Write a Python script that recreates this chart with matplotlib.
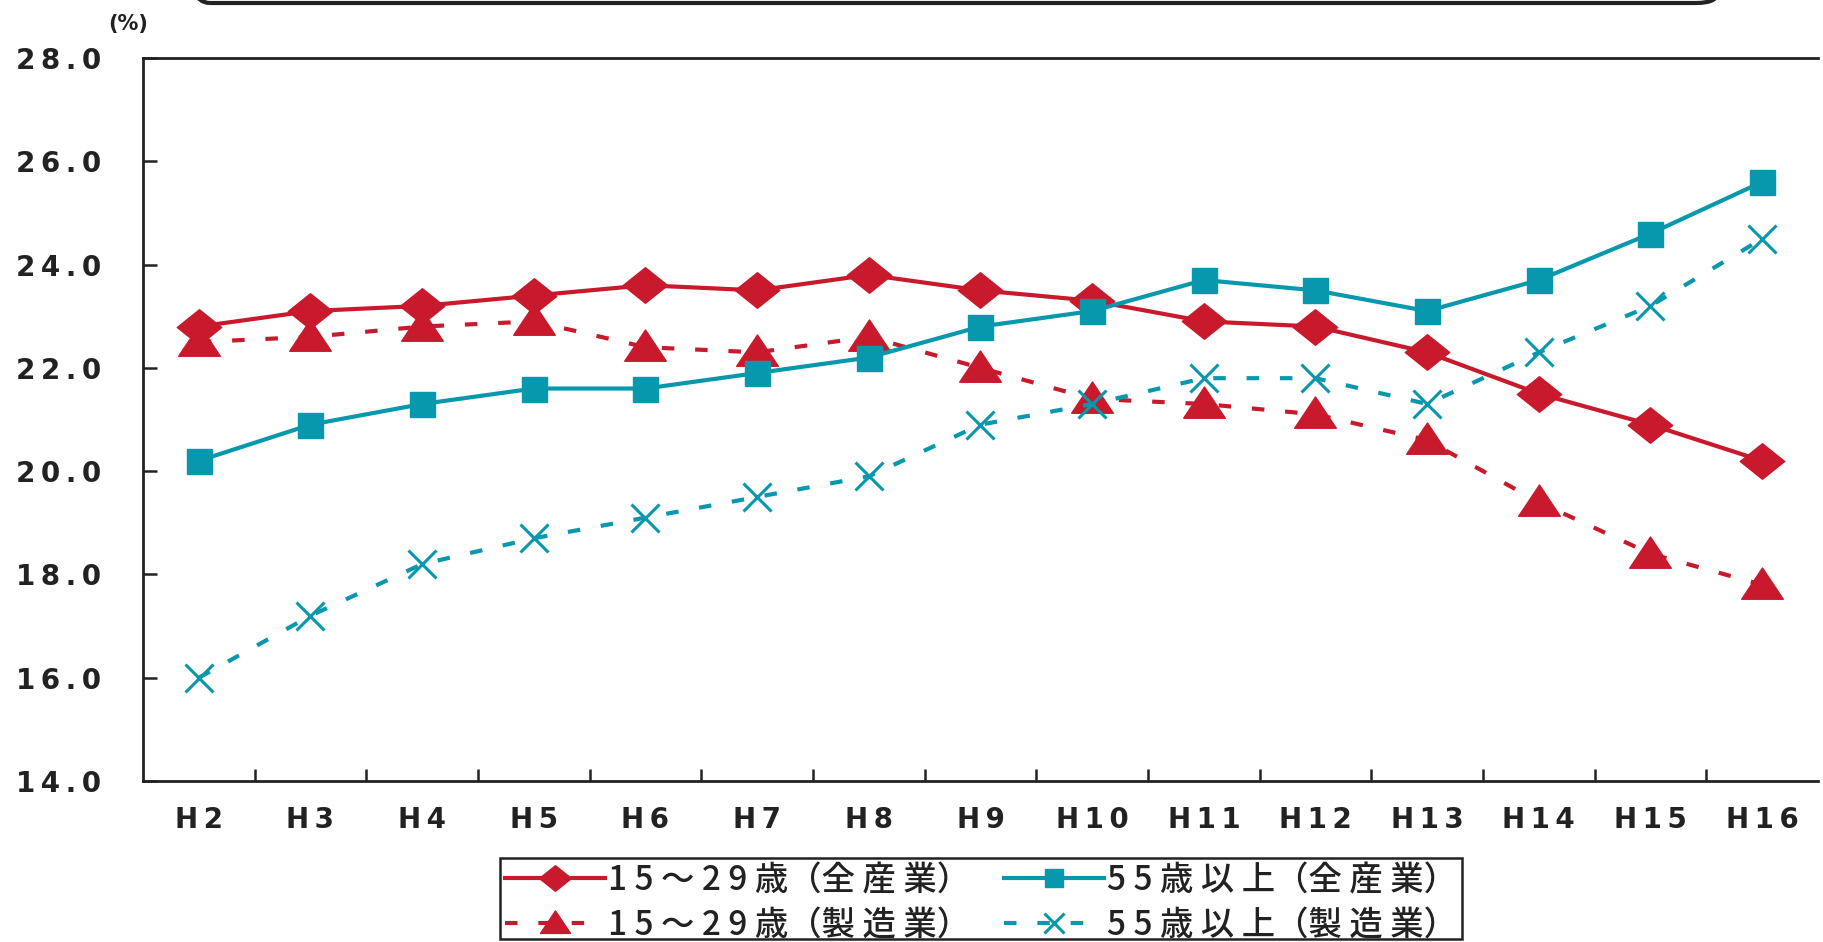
import matplotlib
matplotlib.use("Agg")
import matplotlib.pyplot as plt
from matplotlib.path import Path
from matplotlib.patches import FancyBboxPatch, Rectangle

# --- data -----------------------------------------------------------------
years = ["H2", "H3", "H4", "H5", "H6", "H7", "H8", "H9", "H10",
         "H11", "H12", "H13", "H14", "H15", "H16"]

young_all = [22.8, 23.1, 23.2, 23.4, 23.6, 23.5, 23.8, 23.5, 23.3,
             22.9, 22.8, 22.3, 21.5, 20.9, 20.2]
senior_all = [20.2, 20.9, 21.3, 21.6, 21.6, 21.9, 22.2, 22.8, 23.1,
              23.7, 23.5, 23.1, 23.7, 24.6, 25.6]
young_mfg = [22.5, 22.6, 22.8, 22.9, 22.4, 22.3, 22.6, 22.0, 21.4,
             21.3, 21.1, 20.6, 19.4, 18.4, 17.8]
senior_mfg = [16.0, 17.2, 18.2, 18.7, 19.1, 19.5, 19.9, 20.9, 21.3,
              21.8, 21.8, 21.3, 22.3, 23.2, 24.5]

series_names = ["15～29歳（全産業）", "55歳以上（全産業）",
                "15～29歳（製造業）", "55歳以上（製造業）"]
y_ticks = [14.0, 16.0, 18.0, 20.0, 22.0, 24.0, 26.0, 28.0]
unit_label = "(%)"

# --- style ----------------------------------------------------------------
RED = "#C81A2C"
TEAL = "#0898AD"
INK = "#222222"
CJK = ["Noto Sans CJK JP", "DejaVu Sans"]


def tracked(name):
    """Spread characters out, keeping full-width brackets tight."""
    out = ""
    for i, ch in enumerate(name):
        out += ch
        nxt = name[i + 1] if i + 1 < len(name) else ""
        if nxt and ch not in "（" and nxt not in "（）":
            out += " "
    return out


# flattened diamond and wide triangle markers
diamond = Path([(-0.5, 0.0), (0.0, 0.40), (0.5, 0.0), (0.0, -0.40), (-0.5, 0.0)],
               [Path.MOVETO, Path.LINETO, Path.LINETO, Path.LINETO, Path.CLOSEPOLY])
triangle = Path([(0.0, 0.42), (0.5, -0.33), (-0.5, -0.33), (0.0, 0.42)],
                [Path.MOVETO, Path.LINETO, Path.LINETO, Path.CLOSEPOLY])

W, H = 1824, 942
fig = plt.figure(figsize=(W / 100, H / 100), dpi=100)
fig.patch.set_facecolor("white")

left, right, top, bottom = 143, 1818, 58, 781
ax = fig.add_axes([left / W, 1 - bottom / H, (right - left) / W, (bottom - top) / H])

x = list(range(len(years)))
dash = (3.0, 5.0)

ax.plot(x, young_all, color=RED, lw=3, marker=diamond, ms=32,
        mfc=RED, mec=RED, label=series_names[0], zorder=4)
ax.plot(x, senior_all, color=TEAL, lw=3, marker="s", ms=18,
        mfc=TEAL, mec=TEAL, label=series_names[1], zorder=4)
ax.plot(x, young_mfg, color=RED, lw=3, ls=(0, dash), marker=triangle, ms=30,
        mfc=RED, mec=RED, label=series_names[2], zorder=3)
ax.plot(x, senior_mfg, color=TEAL, lw=3, ls=(0, dash), marker="x", ms=20,
        mew=2.2, mec=TEAL, label=series_names[3], zorder=3)

ax.set_xlim(-0.5, len(years) - 0.5)
ax.set_ylim(14, 28)

# category labels centred, ticks on the category boundaries
ax.set_xticks(x)
ax.set_xticklabels(["\u2009".join(s) for s in years],
                   fontsize=20, fontweight="bold", color=INK)
ax.tick_params(axis="x", which="major", length=0, pad=18)
ax.set_xticks([i + 0.5 for i in x[:-1]], minor=True)
ax.tick_params(axis="x", which="minor", direction="in", length=9,
               width=1.8, color=INK)

ax.set_yticks(y_ticks)
ax.set_yticklabels(["\u2009".join(f"{v:.1f}") for v in y_ticks],
                   fontsize=20, fontweight="bold", color=INK)
ax.tick_params(axis="y", direction="in", length=10, width=1.8,
               color=INK, pad=30)

for side in ("left", "bottom", "top"):
    ax.spines[side].set_linewidth(2)
    ax.spines[side].set_color(INK)
ax.spines["right"].set_visible(False)

fig.text(108 / W, 1 - 24 / H, unit_label, fontsize=15, fontweight="bold",
         color=INK, va="center", ha="left")

# rounded frame cut off at the top edge
frame = FancyBboxPatch((188 / W, 1 - 3 / H), (1718 - 188) / W, 60 / H,
                       boxstyle="round,pad=0,rounding_size=0.012",
                       transform=fig.transFigure, fill=False,
                       ec=INK, lw=3, clip_on=False)
fig.patches.append(frame)

# legend
handles, labels = ax.get_legend_handles_labels()
order = [0, 2, 1, 3]
leg = fig.legend([handles[i] for i in order],
                 [tracked(labels[i]) for i in order],
                 loc="upper left", bbox_to_anchor=(500 / W, 1 - 858 / H),
                 ncol=2, frameon=True, fancybox=False, markerscale=0.72,
                 handlelength=3.0, handletextpad=0.1, columnspacing=1.0,
                 labelspacing=0.3, borderpad=0.15, borderaxespad=0,
                 prop={"family": CJK, "size": 24, "weight": "medium"})
leg.get_frame().set_visible(False)
for t in leg.get_texts():
    t.set_color(INK)

# legend border, closed just above the bottom edge of the image
fig.canvas.draw()
bb = leg.get_window_extent()
box_bottom = 3
fig.patches.append(Rectangle((bb.x0 / W, box_bottom / H),
                             (bb.x1 - bb.x0) / W, (bb.y1 - box_bottom) / H,
                             transform=fig.transFigure, fill=False,
                             ec=INK, lw=1.8, zorder=5))

fig.savefig("out.png", dpi=100, facecolor="white")
